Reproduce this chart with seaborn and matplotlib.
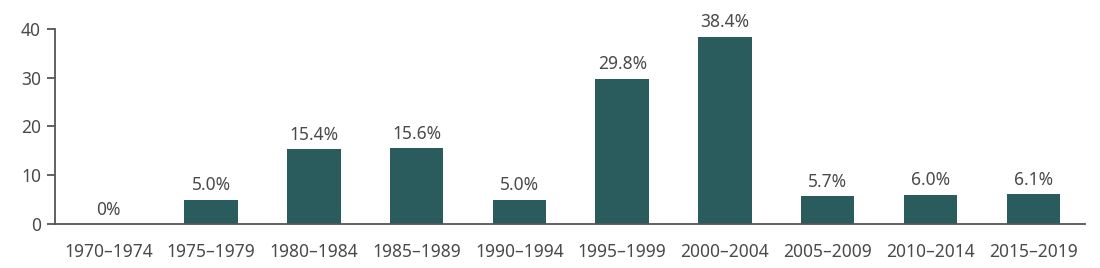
import matplotlib
matplotlib.use("Agg")
import matplotlib.pyplot as plt
import seaborn as sns
import pandas as pd

periods = ["1970–1974", "1975–1979", "1980–1984", "1985–1989", "1990–1994",
           "1995–1999", "2000–2004", "2005–2009", "2010–2014", "2015–2019"]
values = [0.0, 5.0, 15.4, 15.6, 5.0, 29.8, 38.4, 5.7, 6.0, 6.1]
labels = ["0%", "5.0%", "15.4%", "15.6%", "5.0%", "29.8%", "38.4%", "5.7%", "6.0%", "6.1%"]
yticks = [0, 10, 20, 30, 40]

sns.set_theme(style="white")
plt.rcParams['font.family'] = ['Noto Sans', 'DejaVu Sans']
txt = "#4a4a4a"

df = pd.DataFrame({"period": periods, "value": values})
fig = plt.figure(figsize=(11, 2.68), dpi=100)
ax = fig.add_axes([0.05, 0.164, 0.936, 0.728])
sns.barplot(data=df, x="period", y="value", color="#2a5c5e", saturation=1,
            width=0.52, linewidth=0, ax=ax)
ax.set_xlim(-0.52, 9.5)
ax.set_ylim(0, 40)
ax.set_yticks(yticks)
ax.set_xlabel("")
ax.set_ylabel("")
for s in ["top", "right"]:
    ax.spines[s].set_visible(False)
for s in ["left", "bottom"]:
    ax.spines[s].set_color("#555555")
    ax.spines[s].set_linewidth(1.3)
ax.tick_params(axis="y", left=True, length=6, width=1.3, color="#555555",
               labelsize=12.5, labelcolor=txt, pad=4)
ax.tick_params(axis="x", bottom=False, labelsize=12.5, labelcolor=txt, pad=8)
for i, (v, lab) in enumerate(zip(values, labels)):
    ax.text(i, v + 1.1, lab, ha="center", va="bottom", fontsize=12.5, color=txt,
            clip_on=False)
fig.savefig("out.png", dpi=100)
